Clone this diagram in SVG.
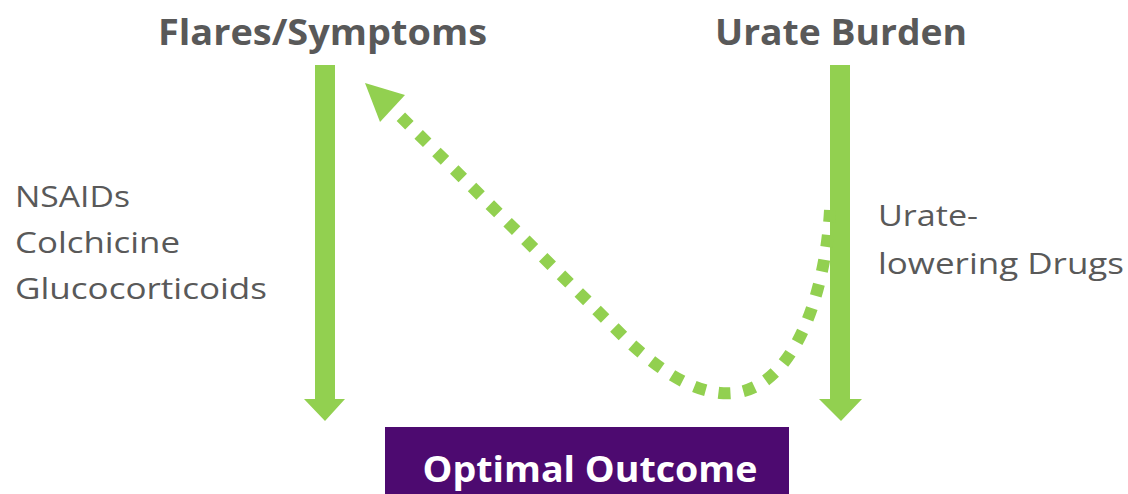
<svg xmlns="http://www.w3.org/2000/svg" width="1128" height="494" viewBox="0 0 1128 494">
  <style>
    .title { font-family: "Open Sans", "Liberation Sans", sans-serif; font-weight: bold; font-size: 36px; fill: #595959; }
    .body { font-family: "Open Sans", "Liberation Sans", sans-serif; font-size: 30px; fill: #595959; }
    .arrow { fill: #92D050; }
    .dotted { fill: none; stroke: #92D050; stroke-width: 12; stroke-dasharray: 12 13; }
    .outcome-text { font-family: "Open Sans", "Liberation Sans", sans-serif; font-weight: bold; font-size: 36px; fill: #FFFFFF; }
  </style>
  <rect width="1128" height="494" fill="#FFFFFF"/>

  <g id="flares">
    <text class="title" x="158" y="45" textLength="329" lengthAdjust="spacingAndGlyphs">Flares/Symptoms</text>
  </g>
  <g id="urate-burden">
    <text class="title" x="715" y="45" textLength="252" lengthAdjust="spacingAndGlyphs">Urate Burden</text>
  </g>
  <g id="acute-drugs">
    <text class="body" x="15" y="207" textLength="115" lengthAdjust="spacingAndGlyphs">NSAIDs</text>
    <text class="body" x="15" y="253" textLength="165" lengthAdjust="spacingAndGlyphs">Colchicine</text>
    <text class="body" x="15" y="299" textLength="252" lengthAdjust="spacingAndGlyphs">Glucocorticoids</text>
  </g>
  <g id="ult-drugs">
    <text class="body" x="878" y="226" textLength="100" lengthAdjust="spacingAndGlyphs">Urate-</text>
    <text class="body" x="878" y="274" textLength="246" lengthAdjust="spacingAndGlyphs">lowering Drugs</text>
  </g>
  <g id="optimal-outcome">
    <rect x="385" y="427" width="404" height="67" fill="#4D0A70"/>
    <text class="outcome-text" x="590" y="482" text-anchor="middle" textLength="335" lengthAdjust="spacingAndGlyphs">Optimal Outcome</text>
  </g>

  <g id="connectors">
    <polygon class="arrow" points="315,65 335,65 335,399 345,399 325,421 304,399 315,399"/>
    <polygon class="arrow" points="830,65 850,65 850,399 862,399 841,421 819,399 830,399"/>
    <path class="dotted" d="M 830 210 C 825 300, 790 400, 720 393 C 690 390, 660 370, 630 343 L 396 112"/>
    <polygon class="arrow" points="365,83 405,95 380,122"/>
  </g>
</svg>
